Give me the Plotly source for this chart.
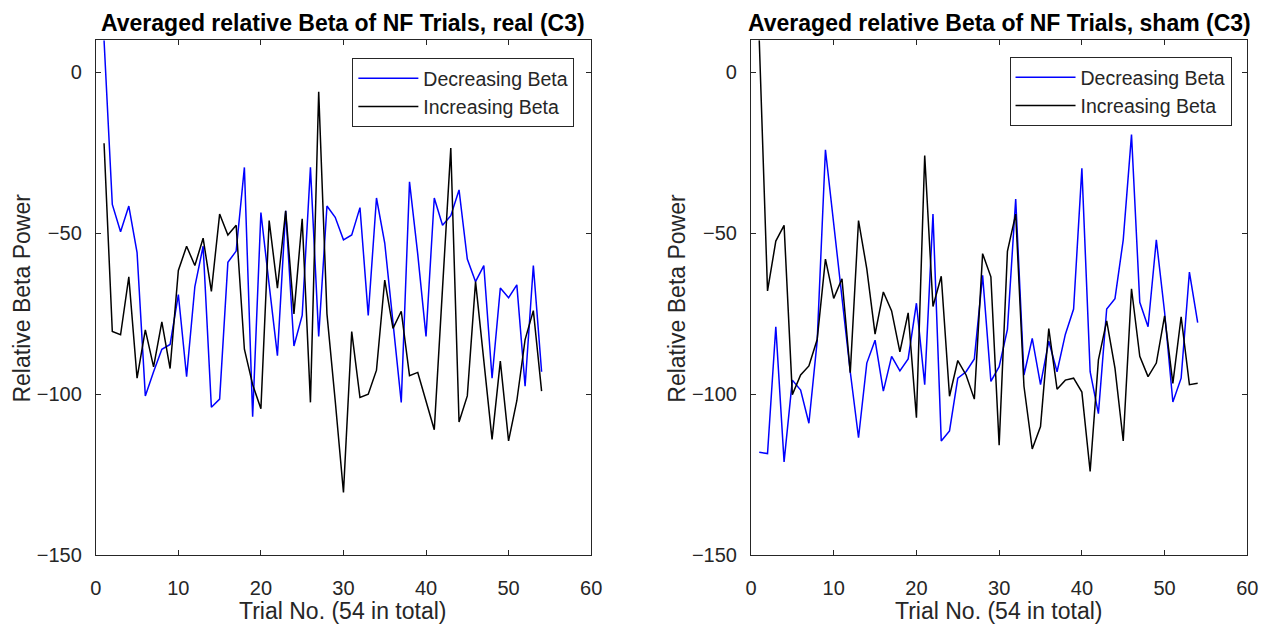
import plotly.graph_objects as go

trials = list(range(1, 55))

real_decreasing = [10, -41, -49.5, -41.5, -56, -100.5, -93, -86, -84.5, -69,
                   -94.5, -66.5, -54, -104, -101.5, -59, -55.5, -29.5, -107, -43.5,
                   -66, -88, -43, -85, -75.5, -29.5, -82, -41.5, -45, -52,
                   -50.5, -42, -75.5, -39, -53, -77, -102.5, -34, -56.5, -82,
                   -39, -47.5, -44.5, -36.5, -58, -65, -60, -95, -67, -70,
                   -66, -97.5, -60, -93]
real_increasing = [-22, -80.5, -81.5, -63.5, -95, -80, -91.5, -77.5, -92, -61.5,
                   -54, -60, -51.5, -68, -44, -50.5, -47.5, -86, -97, -104.5,
                   -46, -67, -43, -75, -45.5, -102.5, -6, -75, -102, -130.5,
                   -80.5, -101, -100, -92.5, -64.5, -79.5, -74.2, -94.2, -93.2, -102,
                   -111, -67, -23.5, -108.6, -100.5, -65, -89.5, -114, -89.7, -114.5,
                   -102, -83, -74, -99]
sham_decreasing = [-118, -118.4, -79, -121, -95.6, -98.7, -109, -83.5, -24, -47.5,
                   -71, -93, -113.5, -90.3, -83.2, -99, -88.2, -92.7, -89, -71.7,
                   -97, -44, -114.5, -111.4, -95, -93, -89, -63, -96, -91.4,
                   -79.8, -39.3, -94, -82.6, -97, -83.5, -93, -81.4, -73.5, -29.8,
                   -93, -106, -73.5, -70.3, -52, -19.3, -71.4, -79, -52, -74.5,
                   -102.4, -95, -62, -77.7]
sham_increasing = [10, -67.9, -52.4, -47.5, -100.1, -94, -91.2, -83, -58, -70.2,
                   -64.1, -93.3, -46, -61, -81.3, -68.2, -74.1, -86.8, -74.7, -107.3,
                   -25.8, -72.7, -63.3, -100.6, -89.5, -94, -101.5, -56.3, -63.5, -115.8,
                   -55.6, -44, -97.5, -117, -110, -79.6, -98.4, -95.6, -95, -99.3,
                   -124, -89.3, -77.2, -91.9, -114.5, -67.2, -88.2, -94.5, -90.3, -75.6,
                   -96.6, -75.9, -97, -96.6]

titles = ["Averaged relative Beta of NF Trials, real (C3)",
          "Averaged relative Beta of NF Trials, sham (C3)"]
series_names = ["Decreasing Beta", "Increasing Beta"]
x_title = "Trial No. (54 in total)"
y_title = "Relative Beta Power"
x_ticks = [0, 10, 20, 30, 40, 50, 60]
y_ticks = [-150, -100, -50, 0]

W, H = 1282, 635
TXT = "#262626"
FONT = "Liberation Sans, Arial, sans-serif"

def px(x):
    return x / W

def py(y):
    return 1 - y / H

left_dom = [px(91), px(593)]
right_dom = [px(755), px(1258)]
y_dom = [py(565), py(41)]

fig = go.Figure()
for vals, name, color in [(real_decreasing, series_names[0], "#0000ff"),
                          (real_increasing, series_names[1], "#000000")]:
    fig.add_trace(go.Scatter(x=trials, y=vals, mode="lines", name=name,
                             line=dict(color=color, width=1.5),
                             xaxis="x", yaxis="y", legend="legend"))
for vals, name, color in [(sham_decreasing, series_names[0], "#0000ff"),
                          (sham_increasing, series_names[1], "#000000")]:
    fig.add_trace(go.Scatter(x=trials, y=vals, mode="lines", name=name,
                             line=dict(color=color, width=1.5),
                             xaxis="x2", yaxis="y2", legend="legend2"))

def axis_style(standoff):
    return dict(showline=True, linecolor=TXT, linewidth=1, mirror="ticks",
                ticks="inside", ticklen=5, tickcolor=TXT, showgrid=False,
                zeroline=False, ticklabelstandoff=standoff,
                tickfont=dict(family=FONT, size=20, color=TXT))

legend_common = dict(xanchor="right", yanchor="top", bgcolor="white",
                     bordercolor=TXT, borderwidth=1, itemwidth=60,
                     font=dict(family=FONT, size=19.5, color=TXT), tracegroupgap=0)

fig.update_layout(
    width=W, height=H,
    margin=dict(l=0, r=0, t=0, b=0),
    paper_bgcolor="white", plot_bgcolor="white",
    showlegend=True,
    xaxis=dict(domain=left_dom, range=[0, 60], tickvals=x_ticks, anchor="y", **axis_style(15)),
    yaxis=dict(domain=y_dom, range=[-150, 10], tickvals=y_ticks, anchor="x", **axis_style(9)),
    xaxis2=dict(domain=right_dom, range=[0, 60], tickvals=x_ticks, anchor="y2", **axis_style(15)),
    yaxis2=dict(domain=y_dom, range=[-150, 10], tickvals=y_ticks, anchor="x2", **axis_style(9)),
    legend=dict(x=px(576), y=py(59), **legend_common),
    legend2=dict(x=px(1242), y=py(58), **legend_common),
)

annotations = [
    dict(text="<b>" + titles[0] + "</b>", x=(left_dom[0] + left_dom[1]) / 2, y=py(23),
         font=dict(family=FONT, size=23, color="#000000")),
    dict(text="<b>" + titles[1] + "</b>", x=(right_dom[0] + right_dom[1]) / 2, y=py(23),
         font=dict(family=FONT, size=23, color="#000000")),
    dict(text=x_title, x=(left_dom[0] + left_dom[1]) / 2, y=py(622),
         font=dict(family=FONT, size=23, color=TXT)),
    dict(text=x_title, x=(right_dom[0] + right_dom[1]) / 2, y=py(622),
         font=dict(family=FONT, size=23, color=TXT)),
    dict(text=y_title, x=px(16), y=py(303), textangle=-90,
         font=dict(family=FONT, size=23, color=TXT)),
    dict(text=y_title, x=px(680), y=py(303), textangle=-90,
         font=dict(family=FONT, size=23, color=TXT)),
]
for a in annotations:
    a.update(xref="paper", yref="paper", showarrow=False, xanchor="center", yanchor="middle")
fig.update_layout(annotations=annotations)

fig.write_html("out.html")
